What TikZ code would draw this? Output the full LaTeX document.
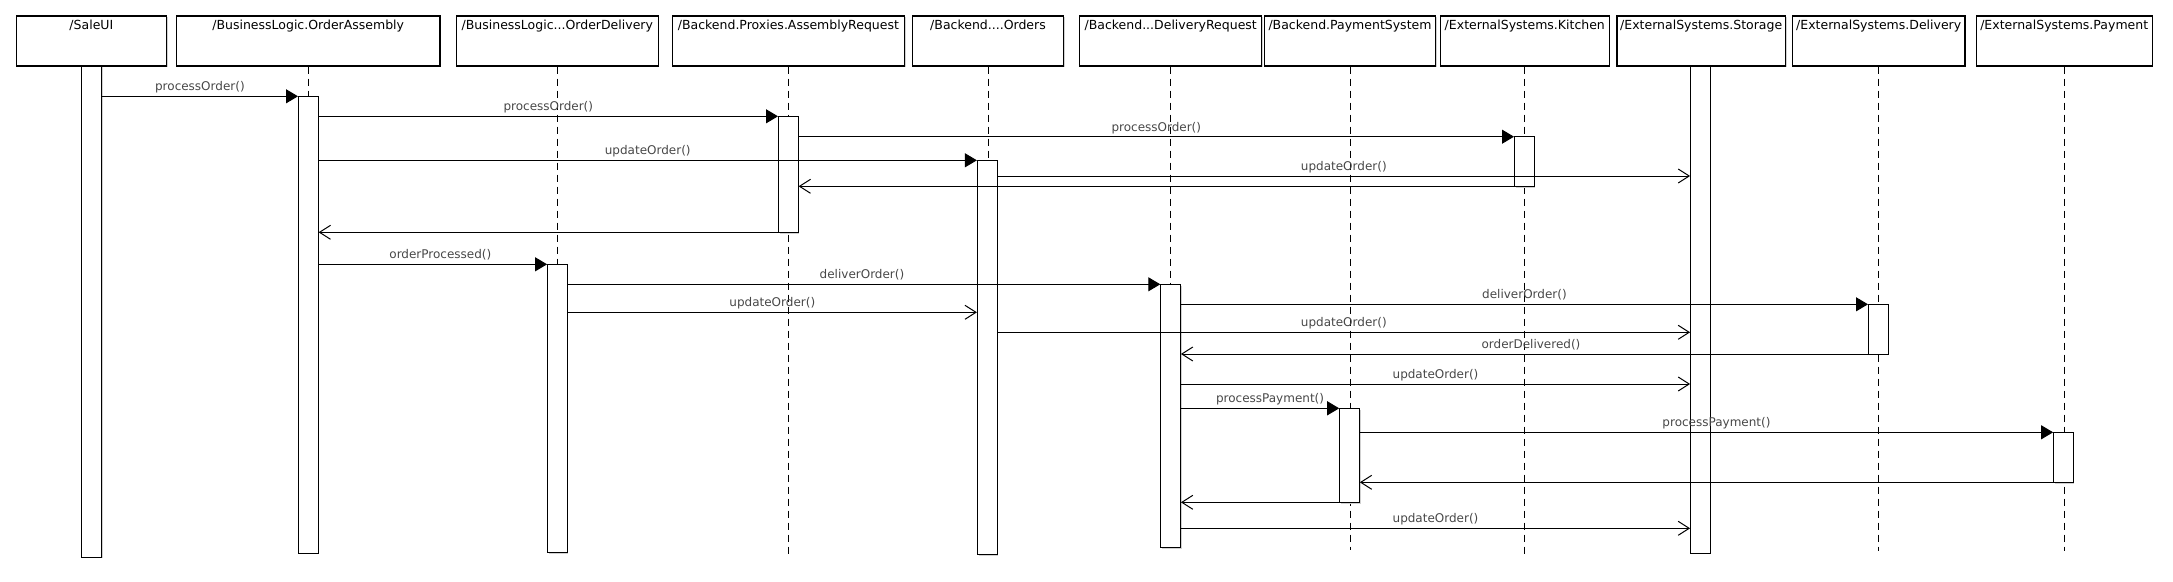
\documentclass[tikz,border=0pt]{standalone}
\usepackage{fontspec}
\setmainfont{DejaVu Sans}
\usetikzlibrary{arrows.meta,shadows}
\begin{document}
\begin{tikzpicture}[x=1pt,y=-1pt,
  shd/.style={drop shadow={shadow xshift=1.2pt,shadow yshift=-1.2pt,fill=black!18,opacity=1}},
  hdr/.style={draw,line width=1.1pt,fill=white,inner sep=0pt,minimum height=50pt,shd},
  hdrtext/.style={anchor=base,inner sep=0pt,font=\fontsize{12.5}{15}\selectfont},
  actbar/.style={draw,line width=1pt,fill=white,inner sep=0pt,minimum width=19.6pt,shd},
  life/.style={line width=0.9pt,dash pattern=on 7pt off 5pt},
  call/.style={line width=1pt,-{Triangle[length=12pt,width=14pt]}},
  reply/.style={line width=1pt,-{Straight Barb[length=11pt,width=14pt]}},
  lab/.style={anchor=base,yshift=5.5pt,inner sep=0pt,text=black!72,font=\fontsize{12}{14}\selectfont}
]
\useasboundingbox (0,0) rectangle (2173,581);

% headers
\node[hdr,minimum width=150pt]   (saleH) at (91.4,41)   {};
\node[hdr,minimum width=263.6pt] (oaH)   at (308.2,41)  {};
\node[hdr,minimum width=201.8pt] (odH)   at (557.3,41)  {};
\node[hdr,minimum width=231.8pt] (arH)   at (788.4,41)  {};
\node[hdr,minimum width=151.1pt] (ordH)  at (988,41)    {};
\node[hdr,minimum width=182.2pt] (drH)   at (1170.7,41) {};
\node[hdr,minimum width=171.4pt] (psH)   at (1350,41)   {};
\node[hdr,minimum width=168.9pt] (kiH)   at (1524.8,41) {};
\node[hdr,minimum width=168.4pt] (stH)   at (1701.2,41) {};
\node[hdr,minimum width=172.5pt] (deH)   at (1878.7,41) {};
\node[hdr,minimum width=175.7pt] (paH)   at (2064.2,41) {};

\node[hdrtext] (saleT) at ([yshift=-14.5pt]saleH.north) {/SaleUI};
\node[hdrtext] (oaT)   at ([yshift=-14.5pt]oaH.north)   {/BusinessLogic.OrderAssembly};
\node[hdrtext] (odT)   at ([yshift=-14.5pt]odH.north)   {/BusinessLogic...OrderDelivery};
\node[hdrtext] (arT)   at ([yshift=-14.5pt]arH.north)   {/Backend.Proxies.AssemblyRequest};
\node[hdrtext] (ordT)  at ([yshift=-14.5pt]ordH.north)  {/Backend....Orders};
\node[hdrtext] (drT)   at ([yshift=-14.5pt]drH.north)   {/Backend...DeliveryRequest};
\node[hdrtext] (psT)   at ([yshift=-14.5pt]psH.north)   {/Backend.PaymentSystem};
\node[hdrtext] (kiT)   at ([yshift=-14.5pt]kiH.north)   {/ExternalSystems.Kitchen};
\node[hdrtext] (stT)   at ([yshift=-14.5pt]stH.north)   {/ExternalSystems.Storage};
\node[hdrtext] (deT)   at ([yshift=-14.5pt]deH.north)   {/ExternalSystems.Delivery};
\node[hdrtext] (paT)   at ([yshift=-14.5pt]paH.north)   {/ExternalSystems.Payment};

% lifelines
\draw[life] (oaH.south)  -- (oaH.south |- 0,553);
\draw[life] (odH.south)  -- (odH.south |- 0,552);
\draw[life] (arH.south)  -- (arH.south |- 0,557);
\draw[life] (ordH.south) -- (ordH.south |- 0,554);
\draw[life] (drH.south)  -- (drH.south |- 0,547);
\draw[life] (psH.south)  -- (psH.south |- 0,550);
\draw[life] (kiH.south)  -- (kiH.south |- 0,558);
\draw[life] (deH.south)  -- (deH.south |- 0,551);
\draw[life] (paH.south)  -- (paH.south |- 0,551);

% activation bars
\node[actbar,minimum height=491pt]   (saleB) at (91.5,311.5)   {};
\node[actbar,minimum height=456.7pt] (oaB)   at (308.3,324.65) {};
\node[actbar,minimum height=116pt]   (arB)   at (788.3,174.3)  {};
\node[actbar,minimum height=49.6pt]  (kiB)   at (1524.3,161.5) {};
\node[actbar,minimum height=394pt]   (ordB)  at (987.2,357.3)  {};
\node[actbar,minimum height=288pt]   (odB)   at (557.4,408.3)  {};
\node[actbar,minimum height=263pt]   (drB)   at (1170.6,415.8) {};
\node[actbar,minimum height=49.7pt]  (deB)   at (1878.3,329.15){};
\node[actbar,minimum height=94pt]    (psB)   at (1349.5,455.3) {};
\node[actbar,minimum height=50pt]    (paB)   at (2063.4,457.3) {};
\node[actbar,minimum height=487pt]   (stB)   at (1700.4,309.5) {};

% messages
\draw[call]  (saleB.east |- 0,96.3) -- (oaB.west |- 0,96.3)  node[lab,midway] {processOrder()};
\draw[call]  (oaB.east |- 0,116.3)  -- (arB.west |- 0,116.3) node[lab,midway] {processOrder()};
\draw[call]  (arB.east |- 0,136.7)  -- (kiB.west |- 0,136.7) node[lab,midway] {processOrder()};
\draw[call]  (oaB.east |- 0,160.3)  -- (ordB.west |- 0,160.3) node[lab,midway] {updateOrder()};
\draw[reply] (ordB.east |- 0,176)   -- (stB.west |- 0,176)   node[lab,midway] {updateOrder()};
\draw[reply] (kiB.west |- 0,186.3)  -- (arB.east |- 0,186.3);
\draw[reply] (arB.west |- 0,232.3)  -- (oaB.east |- 0,232.3);
\draw[call]  (oaB.east |- 0,264.3)  -- (odB.west |- 0,264.3) node[lab,midway,xshift=7.5pt] {orderProcessed()};
\draw[call]  (odB.east |- 0,284.3)  -- (drB.west |- 0,284.3) node[lab,midway,xshift=-2pt] {deliverOrder()};
\draw[call]  (drB.east |- 0,304.3)  -- (deB.west |- 0,304.3) node[lab,midway] {deliverOrder()};
\draw[reply] (odB.east |- 0,312.3)  -- (ordB.west |- 0,312.3) node[lab,midway] {updateOrder()};
\draw[reply] (ordB.east |- 0,332.3) -- (stB.west |- 0,332.3) node[lab,midway] {updateOrder()};
\draw[reply] (deB.west |- 0,354)    -- (drB.east |- 0,354)   node[lab,midway,xshift=6.5pt] {orderDelivered()};
\draw[reply] (drB.east |- 0,384)    -- (stB.west |- 0,384)   node[lab,midway] {updateOrder()};
\draw[call]  (drB.east |- 0,408.3)  -- (psB.west |- 0,408.3) node[lab,midway,xshift=10pt] {processPayment()};
\draw[call]  (psB.east |- 0,432.3)  -- (paB.west |- 0,432.3) node[lab,midway,xshift=10pt] {processPayment()};
\draw[reply] (paB.west |- 0,482.3)  -- (psB.east |- 0,482.3);
\draw[reply] (psB.west |- 0,502.3)  -- (drB.east |- 0,502.3);
\draw[reply] (drB.east |- 0,528.3)  -- (stB.west |- 0,528.3) node[lab,midway] {updateOrder()};
\end{tikzpicture}
\end{document}
